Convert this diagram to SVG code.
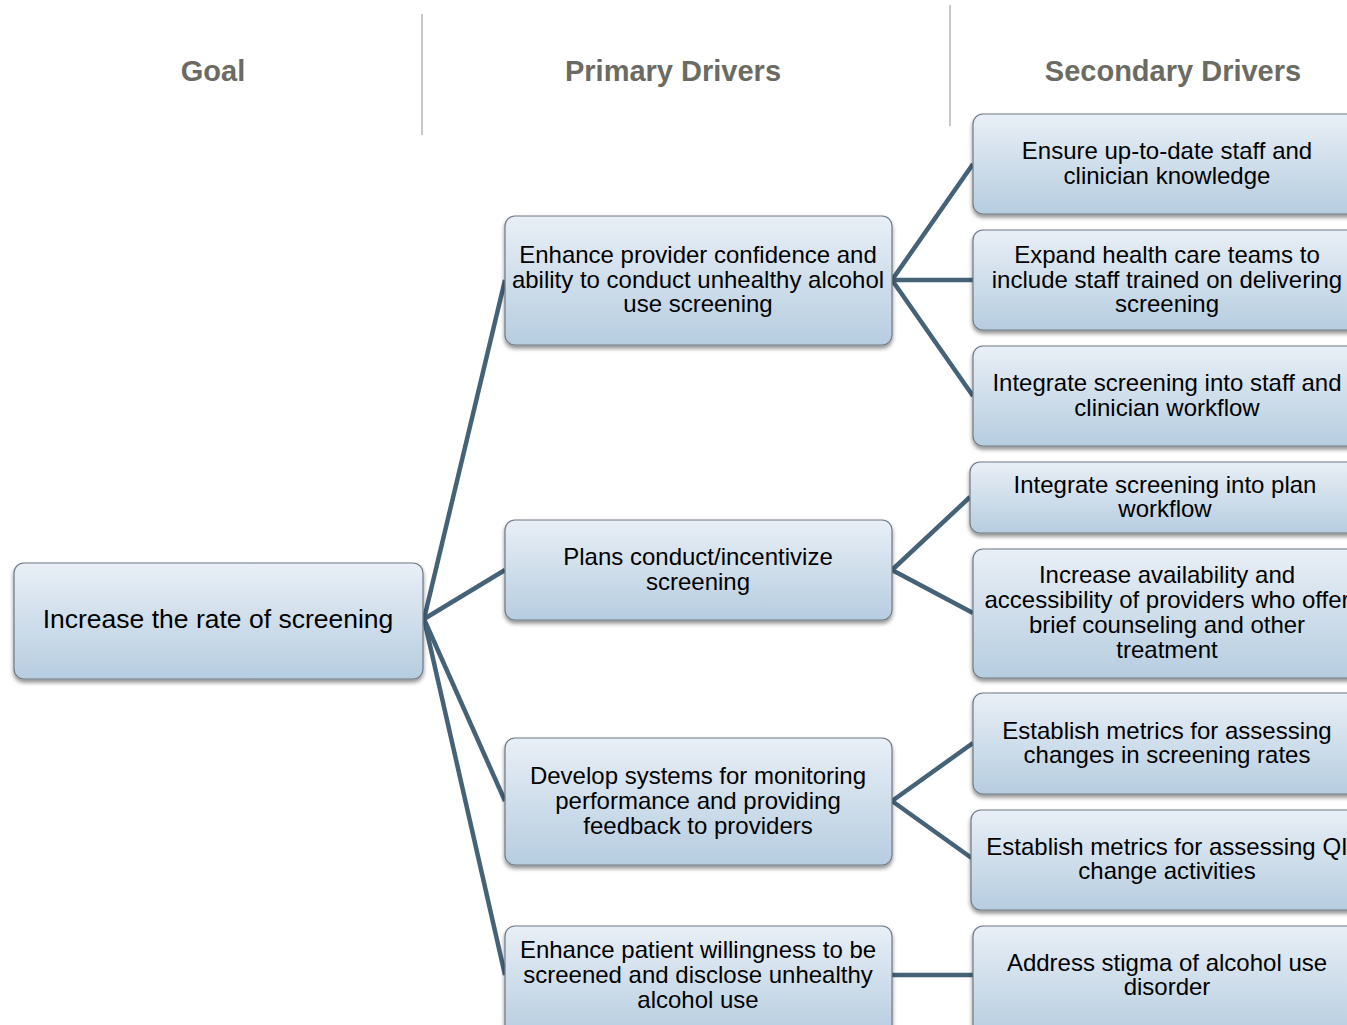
<svg xmlns="http://www.w3.org/2000/svg" width="1347" height="1025" viewBox="0 0 1347 1025">
<defs>
<linearGradient id="g" x1="0" y1="0" x2="0" y2="1">
<stop offset="0" stop-color="#e9eff6"/>
<stop offset="1" stop-color="#b6cde0"/>
</linearGradient>
<filter id="sh" x="-5%" y="-10%" width="110%" height="130%">
<feGaussianBlur in="SourceAlpha" stdDeviation="2"/>
<feOffset dx="0" dy="3" result="b"/>
<feComponentTransfer><feFuncA type="linear" slope="0.45"/></feComponentTransfer>
<feMerge><feMergeNode/><feMergeNode in="SourceGraphic"/></feMerge>
</filter>
</defs>
<style>
.box{fill:url(#g);stroke:#6f7a84;stroke-width:1.2;filter:url(#sh)}
.t{font-family:"Liberation Sans",Arial,sans-serif;font-size:24px;fill:#000;text-anchor:middle}
.h{font-family:"Liberation Sans",Arial,sans-serif;font-size:29px;font-weight:bold;fill:#6b6b63;text-anchor:middle}
.sep{stroke:#c8c8c8;stroke-width:2}
.c{stroke:#456277;stroke-width:4.5;fill:none}
</style>
<rect width="1347" height="1025" fill="#fff"/>
<g id="headers">
<line class="sep" x1="422" y1="14" x2="422" y2="135"/>
<line class="sep" x1="950" y1="5" x2="950" y2="126"/>
<text class="h" x="213" y="81">Goal</text>
<text class="h" x="673" y="81">Primary Drivers</text>
<text class="h" x="1173" y="81">Secondary Drivers</text>
</g>
<g id="connectors">
<line class="c" x1="424" y1="619" x2="505" y2="280"/>
<line class="c" x1="424" y1="619" x2="505" y2="570"/>
<line class="c" x1="424" y1="619" x2="505" y2="801"/>
<line class="c" x1="424" y1="619" x2="505" y2="975"/>
<line class="c" x1="892" y1="280" x2="973" y2="164"/>
<line class="c" x1="892" y1="280" x2="973" y2="280"/>
<line class="c" x1="892" y1="280" x2="973" y2="396"/>
<line class="c" x1="892" y1="570" x2="970" y2="497"/>
<line class="c" x1="892" y1="570" x2="973" y2="613"/>
<line class="c" x1="892" y1="801" x2="973" y2="743"/>
<line class="c" x1="892" y1="801" x2="973" y2="859"/>
<line class="c" x1="892" y1="975" x2="973" y2="975"/>
</g>
<g id="goal">
<rect class="box" x="14" y="563" width="409" height="116" rx="10"/>
<text class="t" x="218" y="628" style="font-size:26.5px">Increase the rate of screening</text>
</g>
<g id="p1">
<rect class="box" x="505" y="216" width="387" height="129" rx="10"/>
<text class="t" x="698" y="263">Enhance provider confidence and</text>
<text class="t" x="698" y="288">ability to conduct unhealthy alcohol</text>
<text class="t" x="698" y="312">use screening</text>
</g>
<g id="p2">
<rect class="box" x="505" y="520" width="387" height="100" rx="10"/>
<text class="t" x="698" y="565">Plans conduct/incentivize</text>
<text class="t" x="698" y="590">screening</text>
</g>
<g id="p3">
<rect class="box" x="505" y="738" width="387" height="127" rx="10"/>
<text class="t" x="698" y="784">Develop systems for monitoring</text>
<text class="t" x="698" y="809">performance and providing</text>
<text class="t" x="698" y="834">feedback to providers</text>
</g>
<g id="p4">
<rect class="box" x="505" y="926" width="387" height="110" rx="10"/>
<text class="t" x="698" y="958">Enhance patient willingness to be</text>
<text class="t" x="698" y="983">screened and disclose unhealthy</text>
<text class="t" x="698" y="1008">alcohol use</text>
</g>
<g id="s1">
<rect class="box" x="973" y="114" width="390" height="100" rx="10"/>
<text class="t" x="1167" y="159">Ensure up-to-date staff and</text>
<text class="t" x="1167" y="184">clinician knowledge</text>
</g>
<g id="s2">
<rect class="box" x="973" y="230" width="390" height="100" rx="10"/>
<text class="t" x="1167" y="263">Expand health care teams to</text>
<text class="t" x="1167" y="288">include staff trained on delivering</text>
<text class="t" x="1167" y="312">screening</text>
</g>
<g id="s3">
<rect class="box" x="973" y="346" width="390" height="100" rx="10"/>
<text class="t" x="1167" y="391">Integrate screening into staff and</text>
<text class="t" x="1167" y="416">clinician workflow</text>
</g>
<g id="s4">
<rect class="box" x="970" y="462" width="393" height="71" rx="10"/>
<text class="t" x="1165" y="493">Integrate screening into plan</text>
<text class="t" x="1165" y="517">workflow</text>
</g>
<g id="s5">
<rect class="box" x="973" y="549" width="390" height="129" rx="10"/>
<text class="t" x="1167" y="583">Increase availability and</text>
<text class="t" x="1167" y="608">accessibility of providers who offer</text>
<text class="t" x="1167" y="633">brief counseling and other</text>
<text class="t" x="1167" y="658">treatment</text>
</g>
<g id="s6">
<rect class="box" x="973" y="693" width="390" height="101" rx="10"/>
<text class="t" x="1167" y="739">Establish metrics for assessing</text>
<text class="t" x="1167" y="763">changes in screening rates</text>
</g>
<g id="s7">
<rect class="box" x="971" y="810" width="392" height="100" rx="10"/>
<text class="t" x="1167" y="855">Establish metrics for assessing QI</text>
<text class="t" x="1167" y="879">change activities</text>
</g>
<g id="s8">
<rect class="box" x="973" y="926" width="390" height="110" rx="10"/>
<text class="t" x="1167" y="971">Address stigma of alcohol use</text>
<text class="t" x="1167" y="995">disorder</text>
</g>
</svg>
